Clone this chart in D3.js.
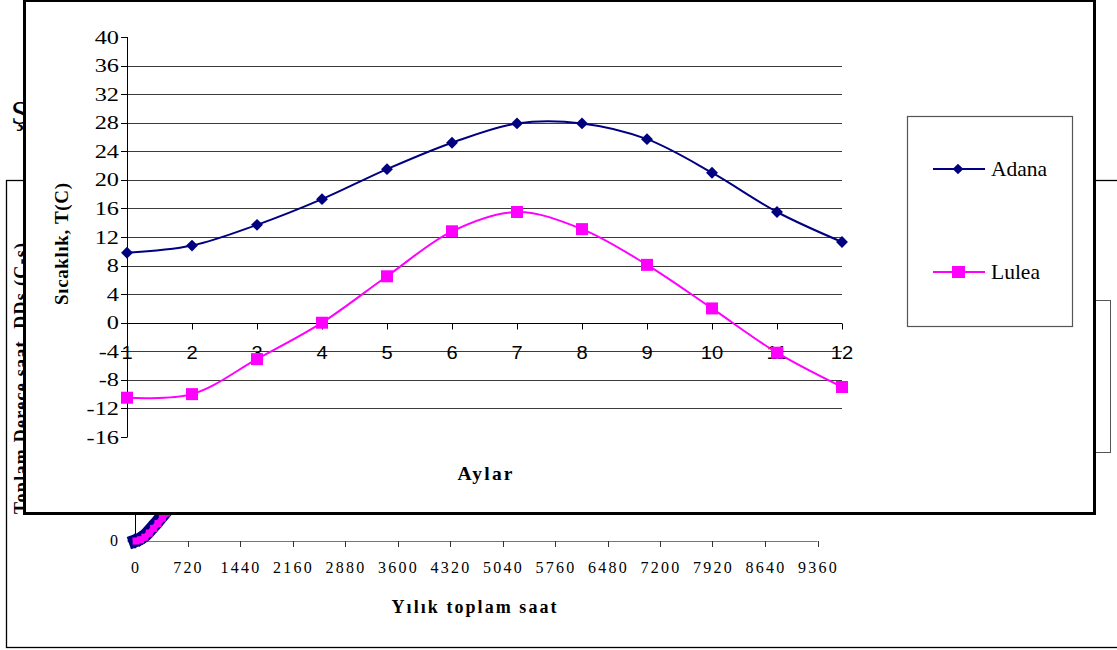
<!DOCTYPE html>
<html>
<head>
<meta charset="utf-8">
<script src="https://cdn.jsdelivr.net/npm/d3@7/dist/d3.min.js"></script>
<style>
  html, body { margin: 0; padding: 0; background: #fff; }
  svg { display: block; }
</style>
</head>
<body>
<svg id="chart" width="1117" height="650"></svg>
<script>
// ---------------- DATA ----------------
// Front chart: monthly temperatures
const months = [1, 2, 3, 4, 5, 6, 7, 8, 9, 10, 11, 12];
const adana  = [9.8, 10.8, 13.7, 17.3, 21.5, 25.2, 27.9, 27.9, 25.7, 21.0, 15.5, 11.3];
const lulea  = [-10.5, -10.0, -5.1, 0.0, 6.5, 12.8, 15.5, 13.1, 8.1, 2.0, -4.2, -9.0];
const yTicks = [-16, -12, -8, -4, 0, 4, 8, 12, 16, 20, 24, 28, 32, 36, 40];
const seriesNames = ["Adana", "Lulea"];

// Background chart (mostly hidden): cumulative degree-hours vs annual hours
const bgHourTicks = [0, 720, 1440, 2160, 2880, 3600, 4320, 5040, 5760, 6480, 7200, 7920, 8640, 9360];
const bgDDTicks = [0];
const bgHoursAdana = [0, 60, 120, 180, 240, 300, 360, 420, 480, 540, 600];
const bgDDAdana    = [0, 500, 1300, 2500, 3900, 5300, 6800, 8300, 9800, 11300, 12800];
const bgHoursLulea = [15, 75, 135, 195, 255, 315, 375, 435, 495, 555, 615];
const bgDDLulea    = [0, 350, 1100, 2250, 3600, 5000, 6500, 8000, 9500, 11000, 12500];

// ---------------- DRAW ----------------
const svg = d3.select("#chart");
svg.append("rect").attr("width", 1117).attr("height", 650).attr("fill", "#fff");

const serif = "'Liberation Serif', 'Times New Roman', serif";
const sans = "'Liberation Sans', Arial, sans-serif";

// ===== Background chart =====
const bg = svg.append("g");
// stray title glyph (partly hidden behind the front chart)
bg.append("text").attr("x", 11).attr("y", 124).attr("font-family", serif)
  .attr("font-size", 33).attr("fill", "#000").text("Ş");

bg.append("rect").attr("x", 6.5).attr("y", 180.5).attr("width", 1130).attr("height", 467)
  .attr("fill", "#fff").attr("stroke", "#000").attr("stroke-width", 1.3);
bg.append("rect").attr("x", 1070.5).attr("y", 300.5).attr("width", 40).attr("height", 152)
  .attr("fill", "#fff").attr("stroke", "#555").attr("stroke-width", 1);

const bx = d3.scaleLinear().domain([0, 9360]).range([135, 817.5]);
const by = d3.scaleLinear().domain([0, 100000]).range([541, 191]);

// x axis
bg.append("line").attr("x1", bx(0)).attr("x2", bx(9360)).attr("y1", 541.5).attr("y2", 541.5)
  .attr("stroke", "#777").attr("stroke-width", 1.2);
bg.selectAll(".bgt").data(bgHourTicks).enter().append("line")
  .attr("x1", d => Math.round(bx(d)) + 0.5).attr("x2", d => Math.round(bx(d)) + 0.5)
  .attr("y1", 541).attr("y2", 547).attr("stroke", "#333");
bg.selectAll(".bgl").data(bgHourTicks).enter().append("text")
  .attr("x", d => bx(d) + 1).attr("y", 573).attr("text-anchor", "middle")
  .attr("font-family", serif).attr("font-size", 16).attr("letter-spacing", 2.2)
  .attr("fill", "#000").text(d => d);
bg.append("text").attr("x", 474).attr("y", 613).attr("text-anchor", "middle")
  .attr("font-family", serif).attr("font-size", 18).attr("font-weight", "bold")
  .attr("textLength", 165).attr("lengthAdjust", "spacing")
  .attr("fill", "#000").text("Yılık toplam saat");
// y axis
bg.append("line").attr("x1", 135.5).attr("x2", 135.5).attr("y1", 400).attr("y2", 541)
  .attr("stroke", "#000").attr("stroke-width", 1);
bg.selectAll(".bgy").data(bgDDTicks).enter().append("text")
  .attr("x", 118).attr("y", d => by(d) + 5).attr("text-anchor", "end")
  .attr("font-family", serif).attr("font-size", 16).attr("fill", "#000").text(d => d);
bg.append("text").attr("transform", "translate(27,514) rotate(-90)")
  .attr("text-anchor", "start").attr("font-family", serif).attr("font-size", 18)
  .attr("font-weight", "bold").attr("textLength", 271).attr("lengthAdjust", "spacing")
  .attr("fill", "#000").text("Toplam Derece saat, DDs (C-s)");

// dense series blobs
const bgA = bgHoursAdana.map((h, i) => [bx(h), by(bgDDAdana[i])]);
const bgL = bgHoursLulea.map((h, i) => [bx(h), by(bgDDLulea[i])]);
const lineGen = d3.line().curve(d3.curveCatmullRom);
bg.append("path").attr("d", lineGen(bgA)).attr("fill", "none").attr("stroke", "#000080")
  .attr("stroke-width", 13).attr("stroke-linecap", "square");
bg.selectAll(".bgad").data(bgA).enter().append("rect")
  .attr("x", -5.5).attr("y", -5.5).attr("width", 11).attr("height", 11)
  .attr("transform", d => `translate(${d[0]},${d[1]}) rotate(45)`).attr("fill", "#000080");
bg.append("path").attr("d", lineGen(bgL)).attr("fill", "none").attr("stroke", "#FF00FF")
  .attr("stroke-width", 6).attr("stroke-linecap", "square");
bg.selectAll(".bglu").data(bgL).enter().append("rect")
  .attr("x", d => d[0] - 3.5).attr("y", d => d[1] - 3.5).attr("width", 7).attr("height", 7)
  .attr("fill", "#FF00FF");

// ===== Front chart =====
const fg = svg.append("g");
fg.append("rect").attr("x", 24).attr("y", 0).attr("width", 1070).attr("height", 513).attr("fill", "#fff");
fg.append("line").attr("x1", 23).attr("x2", 1096).attr("y1", 1).attr("y2", 1).attr("stroke", "#000").attr("stroke-width", 2);
fg.append("line").attr("x1", 24.5).attr("x2", 24.5).attr("y1", 0).attr("y2", 514.5).attr("stroke", "#000").attr("stroke-width", 3);
fg.append("line").attr("x1", 1094.5).attr("x2", 1094.5).attr("y1", 0).attr("y2", 514.5).attr("stroke", "#000").attr("stroke-width", 3);
fg.append("line").attr("x1", 23).attr("x2", 1096).attr("y1", 513.5).attr("y2", 513.5).attr("stroke", "#000").attr("stroke-width", 3);

const x = d3.scaleLinear().domain([1, 12]).range([127, 842]);
const y = d3.scaleLinear().domain([-16, 40]).range([437, 37]);

// gridlines
fg.selectAll(".grid").data(yTicks.filter(v => v > -16 && v < 40 && v !== 0)).enter().append("line")
  .attr("x1", x(1)).attr("x2", x(12))
  .attr("y1", d => Math.round(y(d)) + 0.5).attr("y2", d => Math.round(y(d)) + 0.5)
  .attr("stroke", "#3a3a3a").attr("stroke-width", 1.1);

// y axis
fg.append("line").attr("x1", 127.5).attr("x2", 127.5).attr("y1", y(40)).attr("y2", y(-16))
  .attr("stroke", "#000").attr("stroke-width", 1);
fg.selectAll(".yt").data(yTicks).enter().append("line")
  .attr("x1", 121).attr("x2", 127.5)
  .attr("y1", d => Math.round(y(d)) + 0.5).attr("y2", d => Math.round(y(d)) + 0.5)
  .attr("stroke", "#000");
fg.selectAll(".yl").data(yTicks).enter().append("text")
  .attr("transform", d => `translate(119,${y(d) + 6.5}) scale(1.28,1)`)
  .attr("text-anchor", "end").attr("font-family", serif).attr("font-size", 19)
  .attr("fill", "#000").text(d => d);

// x axis at 0
const y0 = Math.round(y(0)) + 0.5;
fg.append("line").attr("x1", x(1)).attr("x2", x(12)).attr("y1", y0).attr("y2", y0)
  .attr("stroke", "#000").attr("stroke-width", 1.2);
fg.selectAll(".xt").data(months).enter().append("line")
  .attr("x1", d => Math.round(x(d)) + 0.5).attr("x2", d => Math.round(x(d)) + 0.5)
  .attr("y1", y0).attr("y2", y0 + 6).attr("stroke", "#000");
fg.selectAll(".xl").data(months).enter().append("text")
  .attr("transform", d => `translate(${x(d)},359) scale(1.15,1)`)
  .attr("text-anchor", "middle").attr("font-family", sans).attr("font-size", 17.5)
  .attr("fill", "#000").text(d => d);

// axis titles
fg.append("text").attr("transform", "translate(68,244) rotate(-90)")
  .attr("text-anchor", "middle").attr("font-family", serif).attr("font-size", 19)
  .attr("font-weight", "bold").attr("textLength", 122).attr("lengthAdjust", "spacing")
  .attr("fill", "#000").text("Sıcaklık, T(C)");
fg.append("text").attr("x", 485).attr("y", 480).attr("text-anchor", "middle")
  .attr("font-family", serif).attr("font-size", 19.5).attr("font-weight", "bold")
  .attr("textLength", 55).attr("lengthAdjust", "spacing")
  .attr("fill", "#000").text("Aylar");

// series
const curve = d3.line().x(d => x(d[0])).y(d => y(d[1])).curve(d3.curveCatmullRom.alpha(0.5));
const adanaPts = months.map((m, i) => [m, adana[i]]);
const luleaPts = months.map((m, i) => [m, lulea[i]]);

fg.append("path").attr("d", curve(luleaPts)).attr("fill", "none")
  .attr("stroke", "#FF00FF").attr("stroke-width", 2);
fg.append("path").attr("d", curve(adanaPts)).attr("fill", "none")
  .attr("stroke", "#000080").attr("stroke-width", 2);

fg.selectAll(".lm").data(luleaPts).enter().append("rect")
  .attr("x", d => x(d[0]) - 6).attr("y", d => y(d[1]) - 6)
  .attr("width", 12).attr("height", 12).attr("fill", "#FF00FF");
fg.selectAll(".am").data(adanaPts).enter().append("rect")
  .attr("x", -4.2).attr("y", -4.2).attr("width", 8.4).attr("height", 8.4)
  .attr("transform", d => `translate(${x(d[0])},${y(d[1])}) rotate(45)`)
  .attr("fill", "#000080");

// legend
const lg = fg.append("g");
lg.append("rect").attr("x", 907.5).attr("y", 116.5).attr("width", 165).attr("height", 210)
  .attr("fill", "#fff").attr("stroke", "#555").attr("stroke-width", 1.2);
const legendRows = [
  { name: seriesNames[0], color: "#000080", shape: "diamond", y: 169 },
  { name: seriesNames[1], color: "#FF00FF", shape: "square", y: 272 }
];
legendRows.forEach(r => {
  lg.append("line").attr("x1", 933).attr("x2", 985).attr("y1", r.y).attr("y2", r.y)
    .attr("stroke", r.color).attr("stroke-width", 2);
  if (r.shape === "diamond") {
    lg.append("rect").attr("x", -3.8).attr("y", -3.8).attr("width", 7.6).attr("height", 7.6)
      .attr("transform", `translate(958,${r.y}) rotate(45)`).attr("fill", r.color);
  } else {
    lg.append("rect").attr("x", 952).attr("y", r.y - 6).attr("width", 13).attr("height", 12)
      .attr("fill", r.color);
  }
  lg.append("text").attr("x", 991).attr("y", r.y + 7).attr("font-family", serif)
    .attr("font-size", 21.5).attr("fill", "#000").text(r.name);
});
</script>
</body>
</html>
